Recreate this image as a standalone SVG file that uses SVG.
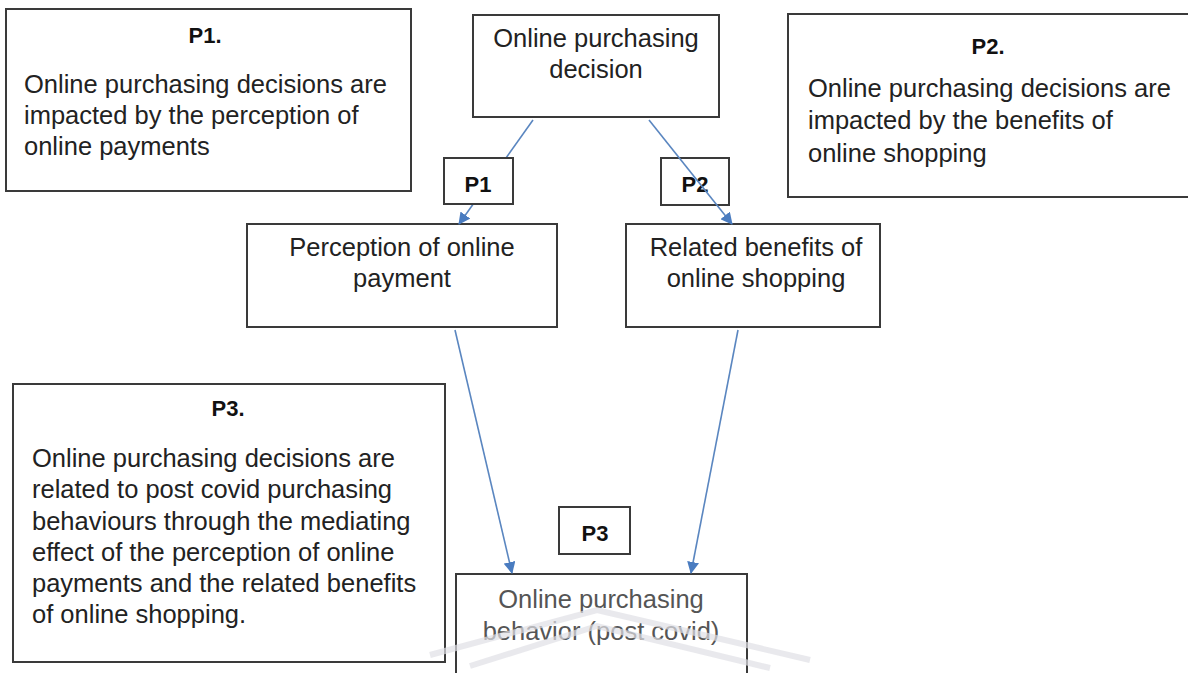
<svg xmlns="http://www.w3.org/2000/svg" width="1188" height="673" viewBox="0 0 1188 673">
<defs>
<style>
.box{fill:#fff;stroke:#3a3a3a;stroke-width:2}
.t{font-family:"Liberation Sans",Arial,sans-serif;font-size:25.5px;fill:#222}
.c{text-anchor:middle}
.b{font-family:"Liberation Sans",Arial,sans-serif;font-weight:bold;font-size:22px;fill:#111;text-anchor:middle}
.ln{stroke:#5a86c0;stroke-width:1.6;fill:none;marker-end:url(#ah)}
.wm{stroke:#e0e0e6;stroke-width:6;fill:none;opacity:0.7}
</style>
<marker id="ah" viewBox="0 0 12 12" refX="11" refY="6" markerWidth="12" markerHeight="12" markerUnits="userSpaceOnUse" orient="auto">
<path d="M0,0 L12,6 L0,12 Z" fill="#4a7cc0"/>
</marker>
</defs>
<rect width="1188" height="673" fill="#fff"/>

<g id="note-p1">
<rect class="box" x="6" y="9" width="405" height="182"/>
<text class="b" x="205" y="43">P1.</text>
<text class="t" x="24" y="93">Online purchasing decisions are</text>
<text class="t" x="24" y="124">impacted by the perception of</text>
<text class="t" x="24" y="155">online payments</text>
</g>

<g id="note-p2">
<rect class="box" x="788" y="14" width="410" height="183"/>
<text class="b" x="988" y="54">P2.</text>
<text class="t" x="808" y="97">Online purchasing decisions are</text>
<text class="t" x="808" y="129">impacted by the benefits of</text>
<text class="t" x="808" y="162">online shopping</text>
</g>

<g id="node-decision">
<rect class="box" x="473" y="15" width="246" height="102"/>
<text class="t c" x="596" y="47">Online purchasing</text>
<text class="t c" x="596" y="78">decision</text>
</g>

<g id="label-p2">
<rect class="box" x="661" y="158" width="68" height="47"/>
<text class="b" x="695" y="192">P2</text>
</g>

<g id="node-perception">
<rect class="box" x="247" y="224" width="310" height="103"/>
<text class="t c" x="402" y="256">Perception of online</text>
<text class="t c" x="402" y="287">payment</text>
</g>

<g id="node-benefits">
<rect class="box" x="626" y="224" width="254" height="103"/>
<text class="t c" x="756" y="256">Related benefits of</text>
<text class="t c" x="756" y="287">online shopping</text>
</g>

<g id="note-p3">
<rect class="box" x="13" y="384" width="432" height="278"/>
<text class="b" x="228" y="416">P3.</text>
<text class="t" x="32" y="467">Online purchasing decisions are</text>
<text class="t" x="32" y="498">related to post covid purchasing</text>
<text class="t" x="32" y="530">behaviours through the mediating</text>
<text class="t" x="32" y="561">effect of the perception of online</text>
<text class="t" x="32" y="592">payments and the related benefits</text>
<text class="t" x="32" y="623">of online shopping.</text>
</g>

<g id="label-p3">
<rect class="box" x="559" y="507" width="71" height="47"/>
<text class="b" x="595" y="541">P3</text>
</g>

<g id="node-behavior">
<rect class="box" x="456" y="574" width="291" height="110"/>
<text class="t c" x="601" y="608" style="fill:#555">Online purchasing</text>
<text class="t c" x="601" y="640" style="fill:#555">behavior (post covid)</text>
</g>

<g id="connectors">
<line class="ln" x1="533" y1="120" x2="459" y2="224"/>
<line class="ln" x1="649" y1="120" x2="732" y2="224"/>
<line class="ln" x1="455" y1="330" x2="512" y2="573"/>
<line class="ln" x1="738" y1="330" x2="691" y2="573"/>
</g>

<g id="label-p1">
<rect class="box" x="444" y="158" width="69" height="46"/>
<text class="b" x="478" y="192">P1</text>
</g>

<g id="watermark">
<polyline class="wm" points="430,655 597,610 810,660"/>
<polyline class="wm" points="470,666 597,626 770,668"/>
</g>
</svg>
